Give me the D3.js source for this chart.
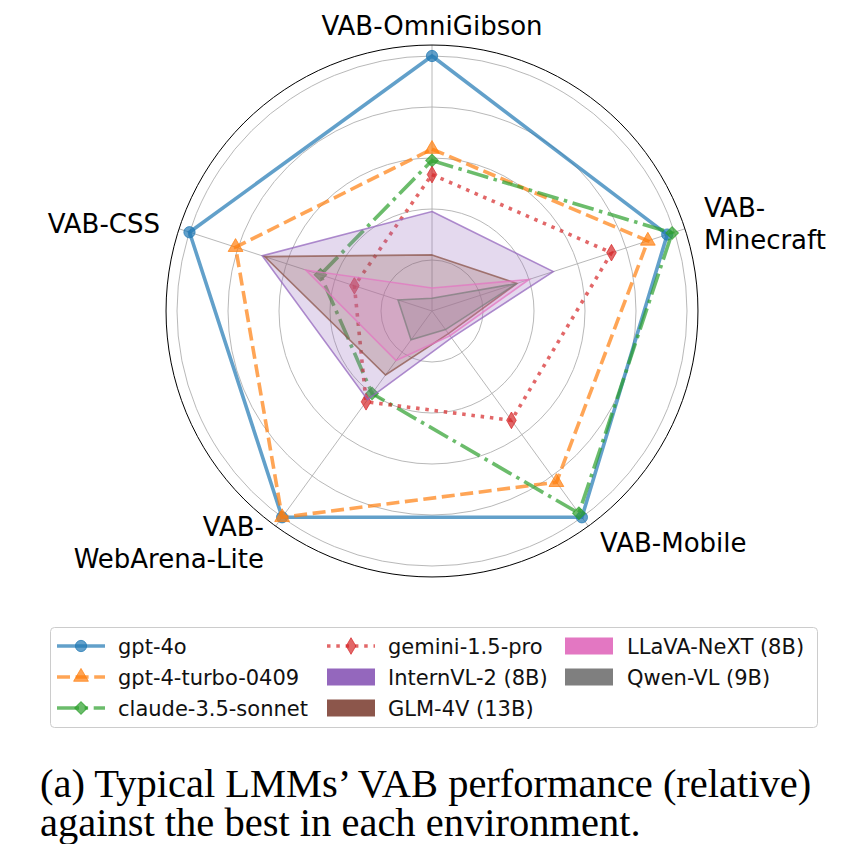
<!DOCTYPE html>
<html><head><meta charset="utf-8">
<script src="https://cdn.jsdelivr.net/npm/d3@7"></script>
<style>html,body{margin:0;padding:0;background:#fff;} svg{display:block;}</style>
</head><body>
<svg id="chart" width="842" height="844"></svg>
<script>
// ---- data ----
const categories = ["VAB-OmniGibson", "VAB-Minecraft", "VAB-Mobile", "VAB-WebArena-Lite", "VAB-CSS"];
const categoryLabels = [["VAB-OmniGibson"], ["VAB-", "Minecraft"], ["VAB-Mobile"], ["VAB-", "WebArena-Lite"], ["VAB-CSS"]];
const gridTicks = [0.2, 0.4, 0.6, 0.8, 1.0];

const gpt4o      = [1.00, 0.97, 1.00, 1.00, 1.00];
const gpt4turbo  = [0.635, 0.89, 0.83, 1.00, 0.81];
const claude35   = [0.59, 0.99, 0.98, 0.40, 0.46];
const gemini15   = [0.535, 0.74, 0.53, 0.44, 0.32];
const internvl2  = [0.39, 0.50, 0.13, 0.43, 0.70];
const glm4v      = [0.22, 0.35, 0.11, 0.31, 0.69];
const llavanext  = [0.09, 0.40, 0.12, 0.24, 0.52];
const qwenvl     = [0.05, 0.35, 0.09, 0.14, 0.14];

const lineSeries = [
  {name: "gpt-4o", values: gpt4o, color: "#1f77b4", dash: null, marker: "circle"},
  {name: "gpt-4-turbo-0409", values: gpt4turbo, color: "#ff7f0e", dash: "13,5.6", marker: "triangle"},
  {name: "claude-3.5-sonnet", values: claude35, color: "#2ca02c", dash: "22,5.6,3.5,5.6", marker: "square45"},
  {name: "gemini-1.5-pro", values: gemini15, color: "#d62728", dash: "3.5,5.8", marker: "thindiamond"}
];
const fillSeries = [
  {name: "InternVL-2 (8B)", values: internvl2, color: "#9467bd"},
  {name: "GLM-4V (13B)", values: glm4v, color: "#8c564b"},
  {name: "LLaVA-NeXT (8B)", values: llavanext, color: "#e377c2"},
  {name: "Qwen-VL (9B)", values: qwenvl, color: "#7f7f7f"}
];

// ---- layout ----
const svg = d3.select("#chart");
const cx = 432, cy = 311;
const rScale = d3.scaleLinear().domain([0, 1]).range([0, 255]);
const rMax = 1.043;
const angle = d3.scaleLinear().domain([0, categories.length]).range([0, 2 * Math.PI]);
const g = svg.append("g").attr("transform", `translate(${cx},${cy})`);

// grid circles
g.selectAll("circle.grid").data(gridTicks).join("circle")
  .attr("r", d => rScale(d)).attr("fill", "none")
  .attr("stroke", "#b0b0b0").attr("stroke-width", 0.9);
// radial lines
g.selectAll("line.spoke").data(categories).join("line")
  .attr("x1", 0).attr("y1", 0)
  .attr("x2", (d, i) => rScale(rMax) * Math.sin(angle(i)))
  .attr("y2", (d, i) => -rScale(rMax) * Math.cos(angle(i)))
  .attr("stroke", "#b0b0b0").attr("stroke-width", 0.9);
// outer spine
g.append("circle").attr("r", rScale(rMax)).attr("fill", "none").attr("stroke", "#000").attr("stroke-width", 1);

const radialLine = d3.lineRadial()
  .angle((d, i) => angle(i)).radius(d => rScale(d)).curve(d3.curveLinearClosed);

function markerPath(type) {
  if (type === "circle") return d3.symbol(d3.symbolCircle, 100)();
  if (type === "triangle") return d3.symbol(d3.symbolTriangle, 95)();
  if (type === "square45") return d3.symbol(d3.symbolSquare, 80)();
  if (type === "thindiamond") return d3.symbol(d3.symbolDiamond, 80)();
}
function markerRot(type) { return type === "square45" ? 45 : 0; }

// lines
lineSeries.forEach(s => {
  const sg = g.append("g");
  sg.append("path").attr("d", radialLine(s.values)).attr("fill", "none")
    .attr("stroke", s.color).attr("stroke-opacity", 0.7).attr("stroke-width", 3.6)
    .attr("stroke-dasharray", s.dash).attr("stroke-linejoin", "miter");
  sg.selectAll("path.m").data(s.values).join("path")
    .attr("d", markerPath(s.marker))
    .attr("transform", (d, i) => `translate(${rScale(d) * Math.sin(angle(i))},${-rScale(d) * Math.cos(angle(i))}) rotate(${markerRot(s.marker)})`)
    .attr("fill", s.color).attr("fill-opacity", 0.7)
    .attr("stroke", s.color).attr("stroke-opacity", 0.7).attr("stroke-width", 1);
});

// fills
fillSeries.forEach(s => {
  g.append("path").attr("d", radialLine(s.values))
    .attr("fill", s.color).attr("fill-opacity", 0.25)
    .attr("stroke", s.color).attr("stroke-opacity", 0.75).attr("stroke-width", 1.6)
    .attr("stroke-linejoin", "miter");
});

// category labels
const labelR = 286, lh = 32;
categoryLabels.forEach((lines, i) => {
  const a = angle(i);
  const x = labelR * Math.sin(a), y = -labelR * Math.cos(a);
  let anchor = "middle";
  if (Math.sin(a) > 0.1) anchor = "start"; else if (Math.sin(a) < -0.1) anchor = "end";
  const t = g.append("text").attr("x", x).attr("y", y)
    .attr("text-anchor", anchor).attr("font-family", "DejaVu Sans").attr("font-size", 26).attr("fill", "#000");
  lines.forEach((ln, j) => {
    t.append("tspan").attr("x", x)
      .attr("dy", j === 0 ? (-(lines.length - 1) / 2 * lh + 10) : lh).text(ln);
  });
});

// legend
const legend = svg.append("g");
legend.append("rect").attr("x", 50.5).attr("y", 627.5).attr("width", 767).attr("height", 100)
  .attr("rx", 4).attr("fill", "#fff").attr("stroke", "#cccccc").attr("stroke-width", 1);
const rowsY = [646, 677, 708];
const colHandleX = [57, 327, 565];
const colTextX = [118, 388, 627];
const legendItems = [...lineSeries.map(s => ({...s, kind: "line"})), ...fillSeries.map(s => ({...s, kind: "patch"}))];
legendItems.forEach((s, k) => {
  const col = Math.floor(k / 3), row = k % 3;
  const hx = colHandleX[col], y = rowsY[row];
  if (s.kind === "line") {
    legend.append("line").attr("x1", hx).attr("x2", hx + 48).attr("y1", y).attr("y2", y)
      .attr("stroke", s.color).attr("stroke-opacity", 0.7).attr("stroke-width", 3.6)
      .attr("stroke-dasharray", s.dash);
    legend.append("path").attr("d", markerPath(s.marker))
      .attr("transform", `translate(${hx + 24},${y}) rotate(${markerRot(s.marker)})`)
      .attr("fill", s.color).attr("fill-opacity", 0.7).attr("stroke", s.color).attr("stroke-opacity", 0.7);
  } else {
    legend.append("rect").attr("x", hx).attr("y", y - 8.5).attr("width", 48).attr("height", 17)
      .attr("fill", s.color);
  }
  legend.append("text").attr("x", colTextX[col]).attr("y", y).attr("dy", "0.36em")
    .attr("font-family", "DejaVu Sans").attr("font-size", 21).attr("fill", "#111").text(s.name);
});

// caption
const caption = ["(a) Typical LMMs\u2019 VAB performance (relative)", "against the best in each environment."];
caption.forEach((c, i) => {
  svg.append("text").attr("x", 40).attr("y", 797 + i * 39)
    .attr("font-family", "Liberation Serif").attr("font-size", 40.5).attr("fill", "#000").text(c);
});
</script>
</body></html>
